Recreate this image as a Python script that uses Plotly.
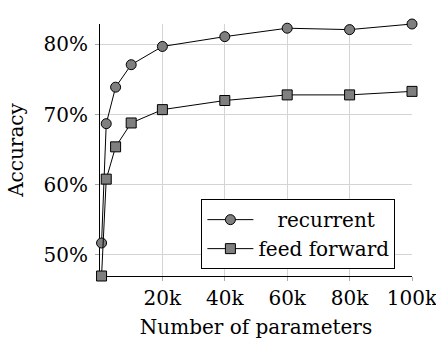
import plotly.graph_objects as go

# Model size (number of parameters) and test accuracy (%)
params = [500, 2000, 5000, 10000, 20000, 40000, 60000, 80000, 100000]
acc_recurrent = [51.7, 68.7, 73.9, 77.1, 79.7, 81.1, 82.3, 82.1, 82.9]
acc_feedforward = [47.0, 60.8, 65.4, 68.8, 70.7, 72.0, 72.8, 72.8, 73.3]

x_ticks = [20000, 40000, 60000, 80000, 100000]
x_tick_labels = ["20k", "40k", "60k", "80k", "100k"]
y_ticks = [50, 60, 70, 80]
y_tick_labels = ["50%", "60%", "70%", "80%"]

FONT = "DejaVu Serif"
MARKER_FILL = "#7f7f7f"
GRID = "#d4d4d4"

fig = go.Figure()

fig.add_trace(go.Scatter(
    x=params, y=acc_recurrent, name="\u00a0\u00a0\u00a0recurrent",
    mode="lines+markers", cliponaxis=False,
    line=dict(color="black", width=1),
    marker=dict(symbol="circle", size=10, color=MARKER_FILL,
                line=dict(color="black", width=1)),
))
fig.add_trace(go.Scatter(
    x=params, y=acc_feedforward, name="feed forward",
    mode="lines+markers", cliponaxis=False,
    line=dict(color="black", width=1),
    marker=dict(symbol="square", size=10, color=MARKER_FILL,
                line=dict(color="black", width=1)),
))

y_lo = min(acc_feedforward + acc_recurrent)
y_hi = max(acc_feedforward + acc_recurrent)

fig.update_layout(
    width=436, height=346,
    margin=dict(l=100, r=24, t=24, b=70),
    paper_bgcolor="white", plot_bgcolor="white",
    font=dict(family=FONT, size=20, color="black"),
    showlegend=True,
    legend=dict(
        x=0.325, y=0.305, xanchor="left", yanchor="top",
        bgcolor="white", bordercolor="black", borderwidth=1,
        font=dict(family=FONT, size=20),
        itemwidth=46,
        tracegroupgap=0,
    ),
    xaxis=dict(
        range=[0, 100000],
        tickvals=x_ticks, ticktext=x_tick_labels,
        ticklabeloverflow="allow",
        automargin=False,
        showgrid=True, gridcolor=GRID, gridwidth=1,
        zeroline=False,
        showline=True, linecolor="black", linewidth=1,
        ticks="outside", ticklen=4, tickcolor="#aaaaaa",
        layer="below traces",
        title=dict(text="Number of parameters", standoff=10,
                   font=dict(family=FONT, size=20)),
    ),
    yaxis=dict(
        range=[y_lo, y_hi],
        tickvals=y_ticks, ticktext=y_tick_labels,
        ticklabelstandoff=3,
        automargin=False,
        showgrid=True, gridcolor=GRID, gridwidth=1,
        zeroline=False,
        showline=True, linecolor="black", linewidth=1,
        ticks="outside", ticklen=4, tickcolor="#aaaaaa",
        layer="below traces",
        title=dict(text="Accuracy", standoff=14,
                   font=dict(family=FONT, size=20)),
    ),
)

fig.write_html("out.html")
